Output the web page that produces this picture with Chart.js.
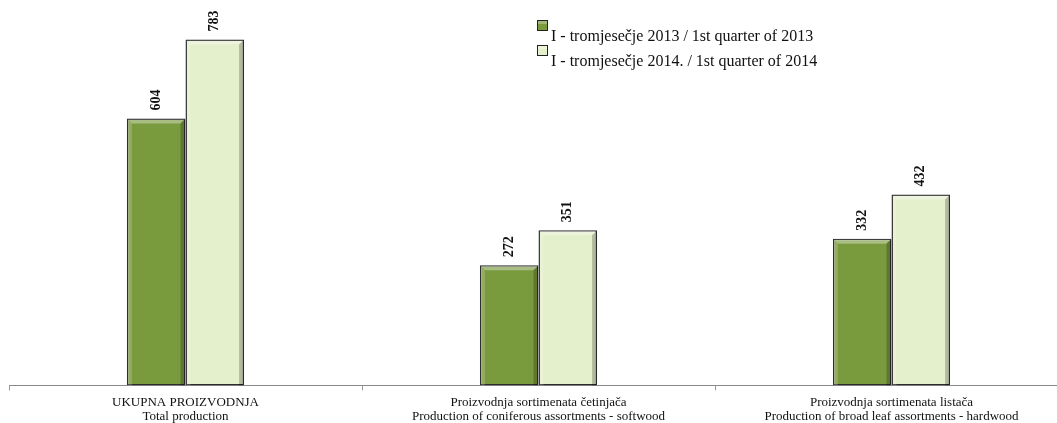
<!DOCTYPE html>
<html>
<head>
<meta charset="utf-8">
<script src="https://cdn.jsdelivr.net/npm/chart.js@4"></script>
<style>
  html, body { margin: 0; padding: 0; background: #fff; overflow: hidden; }
  #wrap { position: relative; width: 1078px; height: 429px; }
</style>
</head>
<body>
<div id="wrap"><canvas id="myChart"></canvas></div>
<script>
"use strict"

const categories = [
    ['UKUPNA PROIZVODNJA', 'Total production'],
    ['Proizvodnja sortimenata četinjača', 'Production of coniferous assortments - softwood'],
    ['Proizvodnja sortimenata listača', 'Production of broad leaf assortments - hardwood']
];
const seriesNames = ['I - tromjesečje 2013 / 1st quarter of 2013', 'I - tromjesečje 2014. / 1st quarter of 2014'];
const q2013 = [604, 272, 332];
const q2014 = [783, 351, 432];

const FONT = "'Liberation Serif', 'Times New Roman', serif";
const fills = ['#7a9a3e', '#e4efcb'];

// bevel look + value labels
const bevelPlugin = {
    id: 'bevel',
    afterDatasetsDraw(chart) {
        const c = chart.ctx;
        chart.data.datasets.forEach((ds, i) => {
            chart.getDatasetMeta(i).data.forEach((bar, j) => {
                const l = bar.x - bar.width / 2, r = bar.x + bar.width / 2;
                const t = bar.y, b = bar.base;
                const e = 5;
                c.save();
                // top highlight
                c.fillStyle = 'rgba(255,255,255,0.35)';
                c.beginPath();
                c.moveTo(l + 1, t + 1); c.lineTo(r - 1, t + 1); c.lineTo(r - e, t + e); c.lineTo(l + e, t + e);
                c.closePath(); c.fill();
                // left highlight
                c.fillStyle = 'rgba(255,255,255,0.18)';
                c.beginPath();
                c.moveTo(l + 1, t + 1); c.lineTo(l + e, t + e); c.lineTo(l + e, b); c.lineTo(l + 1, b);
                c.closePath(); c.fill();
                // right shade
                c.fillStyle = 'rgba(0,0,0,0.22)';
                c.beginPath();
                c.moveTo(r - 1, t + 1); c.lineTo(r - e, t + e); c.lineTo(r - e, b); c.lineTo(r - 1, b);
                c.closePath(); c.fill();
                c.restore();

                // value label
                c.save();
                c.translate(bar.x, t - 8);
                c.rotate(-Math.PI / 2);
                c.font = 'bold 14px ' + FONT;
                c.fillStyle = '#111';
                c.textAlign = 'left';
                c.textBaseline = 'middle';
                c.fillText(String(ds.data[j]), 0, 0);
                c.restore();
            });
        });
    }
};

const legendPlugin = {
    id: 'customLegend',
    afterDraw(chart) {
        const c = chart.ctx;
        c.save();
        seriesNames.forEach((name, i) => {
            const x = 537, y = 20 + i * 25;
            c.fillStyle = fills[i];
            c.fillRect(x, y, 11, 11);
            c.strokeStyle = '#222';
            c.lineWidth = 1;
            c.strokeRect(x + 0.5, y + 0.5, 10, 10);
            c.fillStyle = 'rgba(255,255,255,0.3)';
            c.fillRect(x + 1, y + 1, 9, 3);
            c.font = '16px ' + FONT;
            c.fillStyle = '#111';
            c.textBaseline = 'middle';
            c.fillText(name, x + 14, y + 17);
        });
        c.restore();
    }
};

const ctx = document.getElementById('myChart');

const myChart = new Chart(ctx, {
    type: 'bar',
    data: {
        labels: categories,
        datasets: [{
            label: seriesNames[0],
            data: q2013,
            backgroundColor: fills[0],
            borderColor: '#2b2b2b',
            borderWidth: 1.5,
            borderSkipped: false
        }, {
            label: seriesNames[1],
            data: q2014,
            backgroundColor: fills[1],
            borderColor: '#2b2b2b',
            borderWidth: 1.5,
            borderSkipped: false
        }]
    },
    options: {
        responsive: true,
        maintainAspectRatio: false,
        animation: false,
        layout: { padding: { left: 9, right: 10, top: 32, bottom: 0 } },
        datasets: { bar: { barPercentage: 1, categoryPercentage: 0.332 } },
        plugins: {
            legend: { display: false },
            tooltip: { enabled: false }
        },
        scales: {
            x: {
                grid: { drawOnChartArea: false, drawTicks: true, tickLength: 5, color: '#9a9a9a' },
                border: { color: '#8a8a8a', width: 1 },
                ticks: {
                    color: '#111',
                    padding: 5,
                    maxRotation: 0,
                    font: { family: FONT, size: 13, lineHeight: 1.1 }
                }
            },
            y: {
                display: false,
                min: 0,
                max: 800
            }
        }
    },
    plugins: [bevelPlugin, legendPlugin]
});
</script>
</body>
</html>
